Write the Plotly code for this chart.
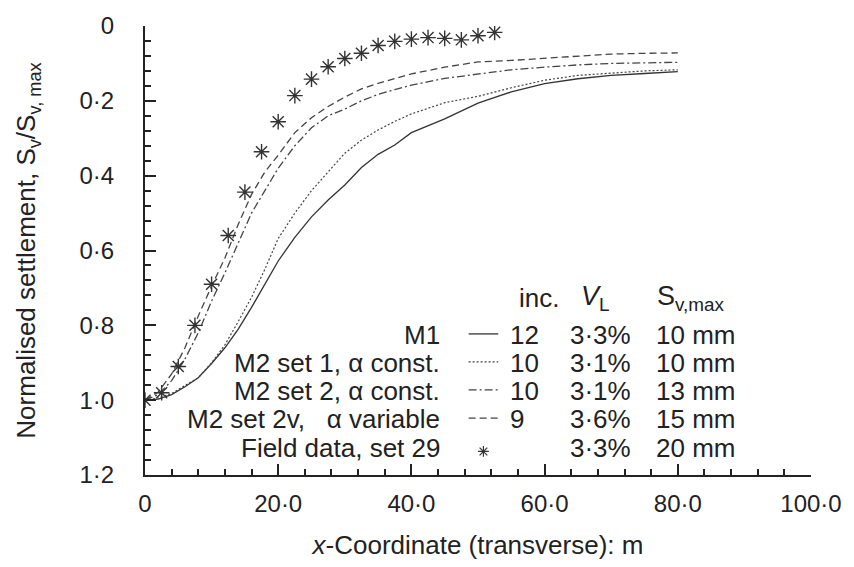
import plotly.graph_objects as go

# ---- data ----
x_grid = [0, 2, 4, 6, 8, 10, 12, 14, 16, 18, 20, 22.5, 25, 27.5, 30, 32.5, 35, 37.5, 40,
          45, 50, 55, 60, 65, 70, 75, 80]
m1 = [1.0, 0.997, 0.985, 0.964, 0.94, 0.902, 0.86, 0.81, 0.752, 0.69, 0.628, 0.565, 0.51,
      0.465, 0.425, 0.378, 0.343, 0.318, 0.285, 0.248, 0.206, 0.176, 0.154, 0.141, 0.132,
      0.127, 0.122]
m2_set1 = [1.0, 0.994, 0.982, 0.962, 0.94, 0.9, 0.852, 0.79, 0.725, 0.65, 0.568, 0.5, 0.44,
           0.39, 0.34, 0.305, 0.278, 0.255, 0.235, 0.205, 0.188, 0.165, 0.145, 0.132, 0.125,
           0.12, 0.117]
m2_set2 = [1.0, 0.985, 0.948, 0.89, 0.82, 0.735, 0.66, 0.58, 0.5, 0.44, 0.38, 0.32, 0.272,
           0.24, 0.222, 0.2, 0.183, 0.17, 0.158, 0.14, 0.128, 0.117, 0.11, 0.104, 0.1, 0.098,
           0.097]
m2_set2v = [1.0, 0.978, 0.93, 0.86, 0.775, 0.695, 0.62, 0.53, 0.45, 0.39, 0.345, 0.285, 0.245,
            0.215, 0.19, 0.168, 0.153, 0.14, 0.128, 0.11, 0.096, 0.092, 0.086, 0.08, 0.075,
            0.073, 0.072]
field_x = [0, 2.5, 5, 7.5, 10, 12.5, 15, 17.5, 20, 22.5, 25, 27.5, 30, 32.5, 35, 37.5, 40,
           42.5, 45, 47.5, 50, 52.5]
field_y = [1.0, 0.98, 0.91, 0.80, 0.69, 0.56, 0.444, 0.336, 0.256, 0.186, 0.142, 0.109, 0.087,
           0.073, 0.052, 0.041, 0.035, 0.031, 0.033, 0.037, 0.026, 0.017]

series_names = ["M1", "M2 set 1, α const.", "M2 set 2, α const.",
                "M2 set 2v,\u00a0\u00a0 α variable", "Field data, set 29"]
inc = ["12", "10", "10", "9", ""]
vl = ["3·3%", "3·1%", "3·1%", "3·6%", "3·3%"]
svmax = ["10 mm", "10 mm", "13 mm", "15 mm", "20 mm"]

x_ticks = [0, 20, 40, 60, 80, 100]
x_ticktext = ["0", "20·0", "40·0", "60·0", "80·0", "100·0"]
y_ticks = [0, 0.2, 0.4, 0.6, 0.8, 1.0, 1.2]
y_ticktext = ["0", "0·2", "0·4", "0·6", "0·8", "1·0", "1·2"]

# ---- layout geometry (pixels) ----
W, H = 854, 567
L, R, T, B = 145, 820, 18, 476


def px(xp):
    return (xp - L) / (R - L)


def py(yp):
    return (B - yp) / (B - T)


FONT = "Liberation Sans, Arial, sans-serif"
TXT = "#222"
LEG = 26

styles = [
    dict(color="#333", width=1.3, dash="solid"),
    dict(color="#444", width=1.2, dash="2px,2px"),
    dict(color="#444", width=1.3, dash="8px,3px,2px,3px"),
    dict(color="#444", width=1.3, dash="7px,4px"),
]

fig = go.Figure()
for ys, st, nm in zip([m1, m2_set1, m2_set2, m2_set2v], styles, series_names):
    fig.add_trace(go.Scatter(x=x_grid, y=ys, mode="lines", line=st, name=nm,
                             showlegend=False))
fig.add_trace(go.Scatter(x=field_x, y=field_y, mode="markers", name=series_names[4],
                         marker=dict(symbol="asterisk-open", size=13, color="#333",
                                     line=dict(width=1.4, color="#333")),
                         showlegend=False))

# ---- legend table ----
row_y = [333, 361.5, 390, 419, 448]
header_y = 295
for i, nm in enumerate(series_names):
    yy = py(row_y[i])
    fig.add_annotation(x=px(446), y=yy, xref="paper", yref="paper", text=nm,
                       showarrow=False, xanchor="right", yanchor="middle",
                       font=dict(size=LEG, color=TXT, family=FONT))
    if inc[i]:
        fig.add_annotation(x=px(513), y=yy, xref="paper", yref="paper", text=inc[i],
                           showarrow=False, xanchor="left", yanchor="middle",
                           font=dict(size=LEG, color=TXT, family=FONT))
    fig.add_annotation(x=px(574), y=yy, xref="paper", yref="paper", text=vl[i],
                       showarrow=False, xanchor="left", yanchor="middle",
                       font=dict(size=LEG, color=TXT, family=FONT))
    fig.add_annotation(x=px(661), y=yy, xref="paper", yref="paper", text=svmax[i],
                       showarrow=False, xanchor="left", yanchor="middle",
                       font=dict(size=LEG, color=TXT, family=FONT))

fig.add_annotation(x=px(522), y=py(header_y), xref="paper", yref="paper", text="inc.",
                   showarrow=False, xanchor="left", yanchor="middle",
                   font=dict(size=LEG, color=TXT, family=FONT))
fig.add_annotation(x=px(585), y=py(header_y), xref="paper", yref="paper",
                   text="<i>V</i><sub>L</sub>",
                   showarrow=False, xanchor="left", yanchor="middle",
                   font=dict(size=LEG + 1, color=TXT, family=FONT))
fig.add_annotation(x=px(662), y=py(header_y), xref="paper", yref="paper",
                   text="S<sub>v,max</sub>",
                   showarrow=False, xanchor="left", yanchor="middle",
                   font=dict(size=LEG + 1, color=TXT, family=FONT))

# legend samples on hidden overlay axes (same as paper coordinates)
for i, st in enumerate(styles):
    fig.add_trace(go.Scatter(x=[px(473), px(503)], y=[py(row_y[i]) + 0.002] * 2,
                             xaxis="x2", yaxis="y2", mode="lines", line=st,
                             showlegend=False, hoverinfo="skip"))
fig.add_trace(go.Scatter(x=[px(488)], y=[py(452)], xaxis="x2", yaxis="y2", mode="markers",
                         marker=dict(symbol="asterisk-open", size=9, color="#333",
                                     line=dict(width=1.2, color="#333")),
                         showlegend=False, hoverinfo="skip"))

axis_common = dict(showline=True, linecolor="#222", linewidth=2, ticks="inside",
                   tickcolor="#222", tickwidth=2, showgrid=False, zeroline=False,
                   tickfont=dict(size=24, color=TXT, family=FONT))

fig.update_layout(
    width=W, height=H,
    margin=dict(l=L, r=W - R, t=T, b=H - B),
    paper_bgcolor="white", plot_bgcolor="white",
    showlegend=False,
    xaxis=dict(range=[0, 100], tickvals=x_ticks, ticktext=x_ticktext, ticklen=11,
               minor=dict(dtick=4, tick0=0, ticks="inside", ticklen=6, tickwidth=1.6,
                          tickcolor="#222"),
               ticklabelstandoff=6,
               title=dict(text="<i>x</i>-Coordinate (transverse): m",
                          font=dict(size=26, color=TXT, family=FONT), standoff=20),
               **axis_common),
    yaxis=dict(range=[1.2, 0], tickvals=y_ticks, ticktext=y_ticktext, ticklen=11,
               minor=dict(dtick=0.04, tick0=0, ticks="inside", ticklen=6, tickwidth=1.6,
                          tickcolor="#222"),
               ticklabelstandoff=24,
               title=dict(text="Normalised settlement, S<sub>v</sub>/S<sub>v, max</sub>",
                          font=dict(size=26, color=TXT, family=FONT), standoff=36),
               **axis_common),
    xaxis2=dict(range=[0, 1], overlaying="x", visible=False, fixedrange=True),
    yaxis2=dict(range=[0, 1], overlaying="y", visible=False, fixedrange=True),
)

fig.write_html("out.html")
